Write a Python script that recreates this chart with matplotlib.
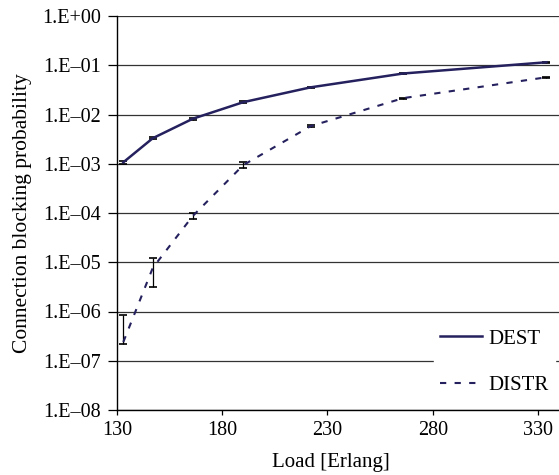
import numpy as np
import matplotlib.pyplot as plt

plt.rcParams['font.family'] = ['Liberation Serif', 'DejaVu Serif']
plt.rcParams['font.size'] = 14.5

# Load [Erlang]
load = [133, 147, 166, 190, 222, 266, 334]

dest = [1.07e-3, 3.3e-3, 8.2e-3, 1.78e-2, 3.56e-2, 6.8e-2, 0.115]
dest_lo = [1.0e-3, 3.15e-3, 7.9e-3, 1.72e-2, 3.5e-2, 6.7e-2, 0.113]
dest_hi = [1.12e-3, 3.45e-3, 8.5e-3, 1.84e-2, 3.62e-2, 6.9e-2, 0.117]

distr = [2.4e-7, 7.7e-6, 8.7e-5, 9.4e-4, 5.8e-3, 2.15e-2, 5.7e-2]
distr_lo = [2.2e-7, 3.2e-6, 7.6e-5, 8.2e-4, 5.6e-3, 2.1e-2, 5.6e-2]
distr_hi = [8.5e-7, 1.2e-5, 1.0e-4, 1.08e-3, 6.0e-3, 2.2e-2, 5.8e-2]

yticks = [1e0, 1e-1, 1e-2, 1e-3, 1e-4, 1e-5, 1e-6, 1e-7, 1e-8]
ylabels = ['1.E+00', '1.E\u201301', '1.E\u201302', '1.E\u201303', '1.E\u201304',
           '1.E\u201305', '1.E\u201306', '1.E\u201307', '1.E\u201308']
xticks = [130, 180, 230, 280, 330]

color = '#25215e'

fig = plt.figure(figsize=(5.59, 4.75), dpi=100)
ax = fig.add_axes([117 / 559, 65 / 475, 442 / 559, 394 / 475])

ax.set_yscale('log')
ax.set_ylim(1e-8, 1e0)
ax.set_xlim(130, 340)

for y in yticks:
    ax.axhline(y, color='#333333', lw=0.9, zorder=1)

dlo = np.array(dest) - np.array(dest_lo)
dhi = np.array(dest_hi) - np.array(dest)
ax.errorbar(load, dest, yerr=[dlo, dhi], fmt='none', ecolor='black',
            elinewidth=0.9, capsize=3, capthick=1.2, zorder=3)
ax.plot(load, dest, color=color, lw=1.8, label='DEST', zorder=4)

slo = np.array(distr) - np.array(distr_lo)
shi = np.array(distr_hi) - np.array(distr)
ax.errorbar(load, distr, yerr=[slo, shi], fmt='none', ecolor='black',
            elinewidth=0.9, capsize=3, capthick=1.2, zorder=3)
ax.plot(load, distr, color=color, lw=1.5, ls=(0, (3, 4)), label='DISTR', zorder=4)

ax.set_yticks(yticks)
ax.set_yticklabels(ylabels)
ax.minorticks_off()
ax.set_xticks(xticks)
ax.tick_params(axis='y', direction='out', length=6.5, width=0.9, colors='black',
               labelsize=14.5, pad=5)
ax.tick_params(axis='x', direction='out', length=3.6, width=0.9, colors='black',
               labelsize=14.5, pad=4.5)

for s in ['top', 'right']:
    ax.spines[s].set_visible(False)
for s in ['left', 'bottom']:
    ax.spines[s].set_linewidth(1.0)

ax.set_xlabel('Load [Erlang]', fontsize=15, labelpad=9)
ax.xaxis.set_label_coords(0.485, -0.11)
ax.set_ylabel('Connection blocking probability', fontsize=15.5, labelpad=7)

leg = ax.legend(loc='lower right', bbox_to_anchor=(1.014, -0.005), frameon=True,
                fancybox=False, edgecolor='white', framealpha=1.0,
                handlelength=2.0, handletextpad=0.3, labelspacing=1.3,
                fontsize=15, borderpad=0.3)
leg.set_zorder(5)

fig.savefig('out.png', dpi=100)
